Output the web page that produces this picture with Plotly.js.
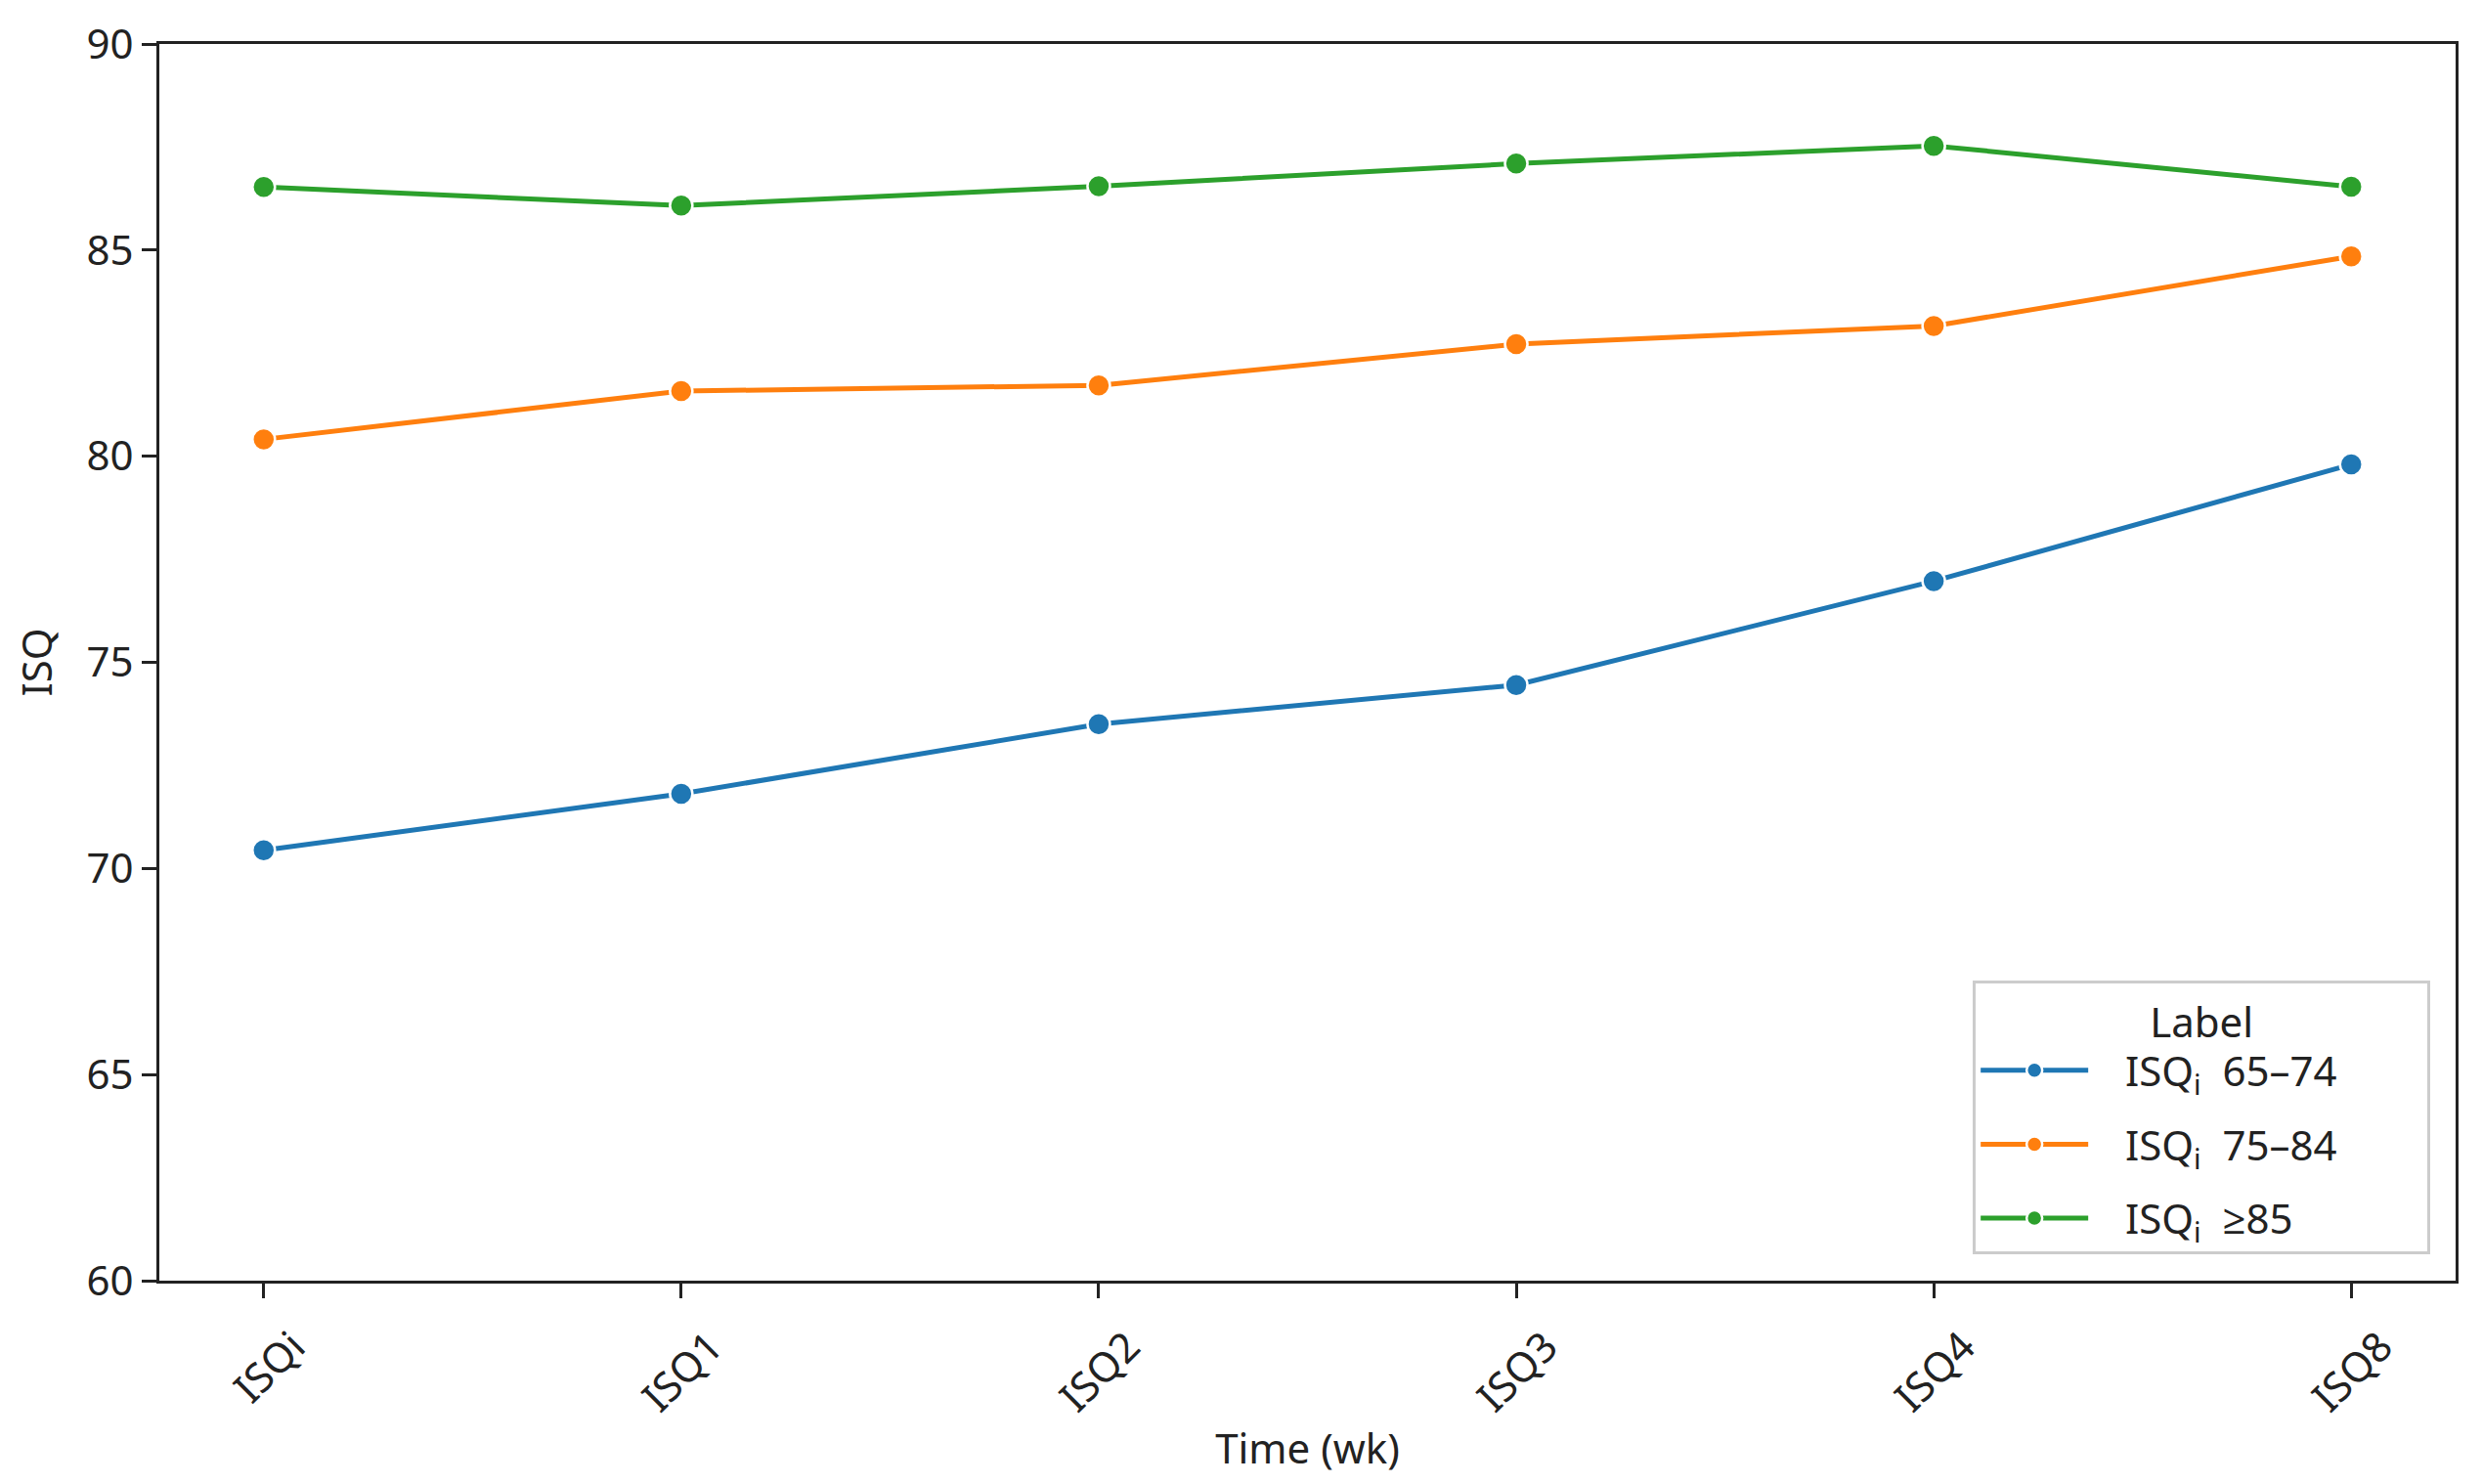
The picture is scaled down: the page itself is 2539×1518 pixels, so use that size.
<!DOCTYPE html>
<html>
<head>
<meta charset="utf-8">
<script src="https://cdn.plot.ly/plotly-3.0.1.min.js"></script>
<style>html,body{margin:0;padding:0;background:#fff;}#chart{width:2539px;height:1518px;}</style>
</head>
<body>
<div id="chart"></div>
<script>
const categories = ["ISQi", "ISQ1", "ISQ2", "ISQ3", "ISQ4", "ISQ8"];
const seriesNames = ["ISQ<sub>i</sub>\u00A0 65–74", "ISQ<sub>i</sub>\u00A0 75–84", "ISQ<sub>i</sub>\u00A0 ≥85"];
const isq65_74 = [70.44, 71.81, 73.50, 74.45, 76.97, 79.80];
const isq75_84 = [80.41, 81.58, 81.72, 82.72, 83.16, 84.85];
const isq85 = [86.53, 86.08, 86.55, 87.10, 87.53, 86.54];
const yTicks = [60, 65, 70, 75, 80, 85, 90];
const colors = ["#1f77b4", "#ff7f0e", "#2ca02c"];

const pad = "\u00A0".repeat(3);
const padR = "\u00A0".repeat(8);
const allSeries = [isq65_74, isq75_84, isq85];
const xIdx = categories.map((c, i) => i);
const traces = allSeries.map((vals, k) => ({
  x: xIdx,
  y: vals,
  type: "scatter",
  mode: "lines+markers",
  name: pad + seriesNames[k] + padR,
  legendgroup: "g" + k,
  line: {color: colors[k], width: 5},
  marker: {color: colors[k], size: 23, line: {color: "#ffffff", width: 2.5}}
}));

const font = "'Noto Sans', 'Open Sans', sans-serif";
const layout = {
  width: 2539,
  height: 1518,
  paper_bgcolor: "#ffffff",
  plot_bgcolor: "#ffffff",
  margin: {l: 163, r: 27, t: 45, b: 208},
  font: {family: font, size: 42, color: "#222222"},
  showlegend: true,
  xaxis: {
    range: [-0.25, 5.25],
    tickmode: "array",
    tickvals: xIdx,
    ticktext: categories,
    tickangle: -45,
    ticklabelshift: 30,
    ticklabelstandoff: 8,
    ticks: "outside",
    ticklen: 15,
    tickwidth: 3,
    tickcolor: "#222222",
    showline: true,
    linecolor: "#222222",
    linewidth: 3,
    mirror: true,
    showgrid: false,
    zeroline: false,
    tickfont: {size: 42, family: font, color: "#222222"},
    title: {text: "Time (wk)", font: {size: 42, family: font, color: "#222222"}, standoff: 14}
  },
  yaxis: {
    range: [60, 90],
    tickmode: "array",
    tickvals: yTicks,
    ticktext: yTicks.map(String),
    ticks: "outside",
    ticklen: 15,
    tickwidth: 3,
    tickcolor: "#222222",
    showline: true,
    linecolor: "#222222",
    linewidth: 3,
    mirror: true,
    showgrid: false,
    zeroline: false,
    tickfont: {size: 42, family: font, color: "#222222"},
    title: {text: "ISQ", font: {size: 42, family: font, color: "#222222"}, standoff: 22}
  },
  legend: {
    x: 0.989,
    y: 0.021,
    xanchor: "right",
    yanchor: "bottom",
    bgcolor: "#ffffff",
    bordercolor: "#cccccc",
    borderwidth: 3,
    traceorder: "grouped",
    tracegroupgap: 18,
    itemwidth: 110,
    font: {size: 42, family: font, color: "#222222"},
    title: {text: "Label", side: "top center", font: {size: 42, family: font, color: "#222222"}}
  }
};

Plotly.newPlot("chart", traces, layout, {displayModeBar: false, staticPlot: true});
</script>
</body>
</html>
